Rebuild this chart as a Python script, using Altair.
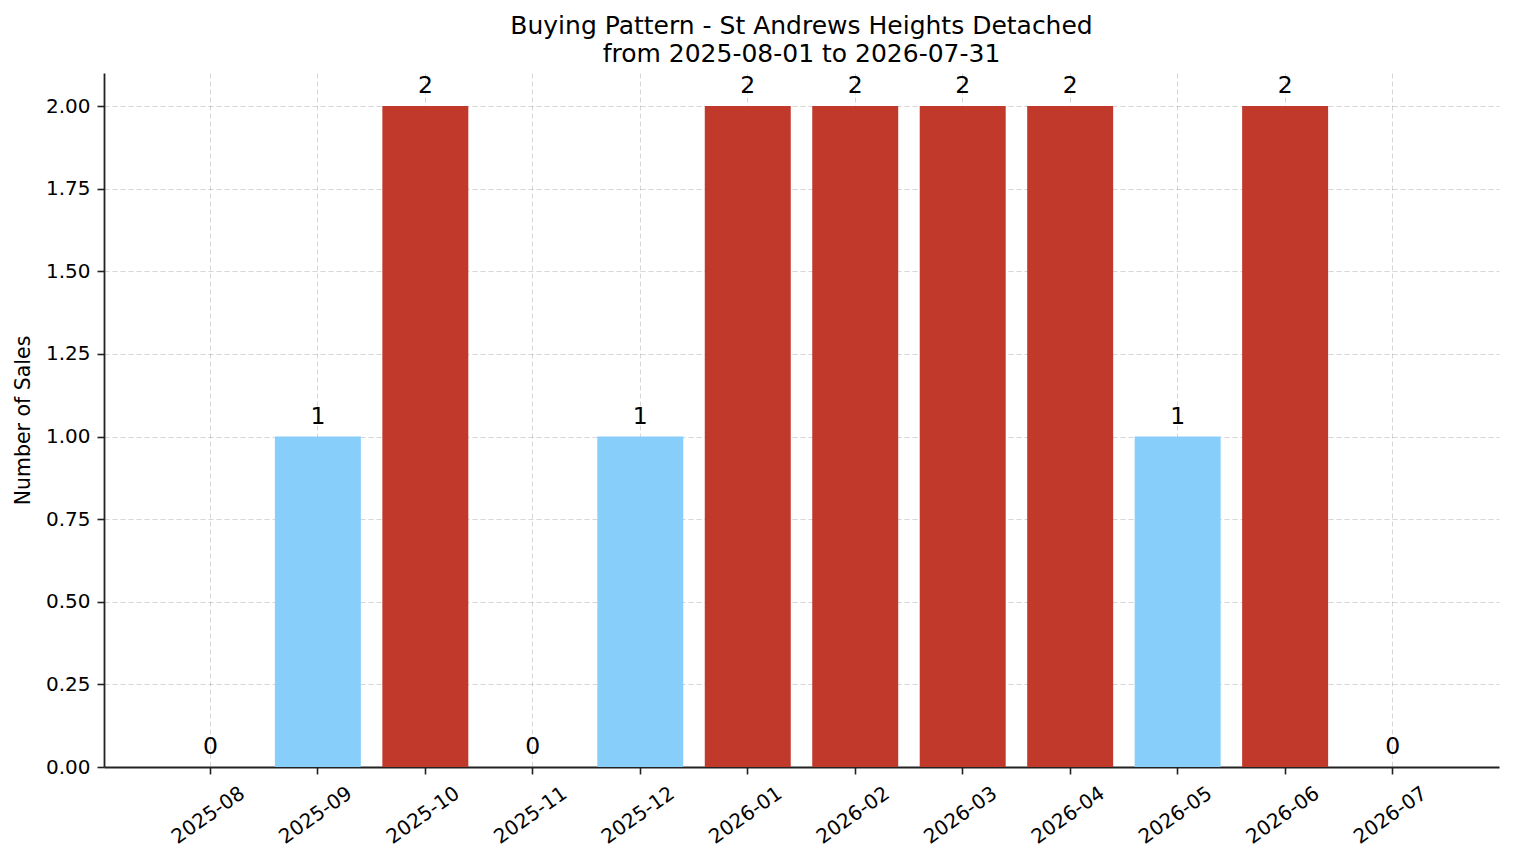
import altair as alt
import pandas as pd

months = ['2025-08', '2025-09', '2025-10', '2025-11', '2025-12', '2026-01',
          '2026-02', '2026-03', '2026-04', '2026-05', '2026-06', '2026-07']
sales = [0, 1, 2, 0, 1, 2, 2, 2, 2, 1, 2, 0]

df = pd.DataFrame({'month': months, 'sales': sales})

FONT = 'DejaVu Sans'

x = alt.X('month:N', sort=months, title=None,
          scale=alt.Scale(paddingInner=0.2, paddingOuter=0.59),
          axis=alt.Axis(labelAngle=325, labelAlign='center',
                        labelBaseline='middle', labelPadding=41,
                        labelOffset=-2))
y = alt.Y('sales:Q', title='Number of Sales',
          scale=alt.Scale(domain=[0, 2.1], nice=False, zero=True),
          axis=alt.Axis(values=[0, 0.25, 0.5, 0.75, 1, 1.25, 1.5, 1.75, 2],
                        format='.2f', titleX=-75, titleBaseline='alphabetic'))

bars = alt.Chart(df).mark_bar().encode(
    x=x,
    y=y,
    color=alt.condition(alt.datum.sales >= 2,
                        alt.value('#C0392B'), alt.value('#87CEFA'))
)

labels = alt.Chart(df).mark_text(
    font=FONT, fontSize=23.5, color='black', baseline='alphabetic', dy=-13
).encode(
    x=alt.X('month:N', sort=months),
    y=alt.Y('sales:Q'),
    text=alt.Text('sales:Q', format='d')
)

chart = alt.layer(bars, labels).properties(
    width=1395,
    height=694,
    autosize=alt.AutoSizeParams(type='none'),
    padding={'left': 96, 'top': 65, 'right': 7, 'bottom': 88},
    title=alt.Title(
        ['Buying Pattern - St Andrews Heights Detached',
         'from 2025-08-01 to 2026-07-31'],
        font=FONT, fontSize=25, fontWeight='normal', color='black',
        lineHeight=28, anchor='middle', offset=6
    )
).configure_view(
    stroke=None
).configure_axis(
    labelFont=FONT, titleFont=FONT, labelFontSize=20, titleFontSize=20.5,
    titleFontWeight='normal', labelColor='black', titleColor='black',
    domainColor='#222222', domainWidth=1.8, tickColor='#222222',
    tickWidth=1.6, tickSize=7, labelPadding=7,
    grid=True, gridColor='#999999', gridOpacity=0.4, gridDash=[5, 3],
    gridWidth=1, zindex=1
)

chart.save('out.html', embed_options={'renderer': 'svg', 'actions': False})
